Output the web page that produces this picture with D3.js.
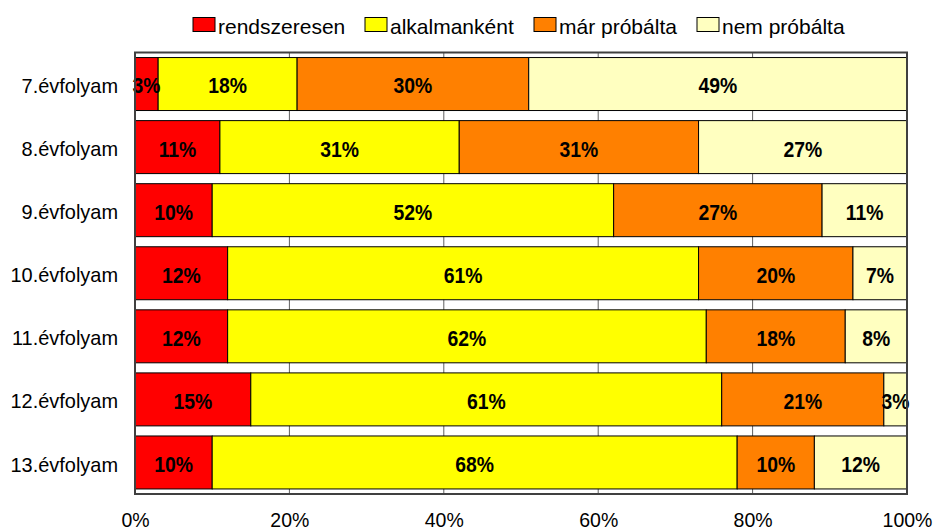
<!DOCTYPE html>
<html>
<head>
<meta charset="utf-8">
<script src="https://cdn.jsdelivr.net/npm/d3@7"></script>
<style>
html,body{margin:0;padding:0;background:#fff;}
text{font-family:Arial,"Liberation Sans",Arimo,sans-serif;}
</style>
</head>
<body>
<svg id="chart" width="935" height="531"></svg>
<script>
const categories = ["7.évfolyam","8.évfolyam","9.évfolyam","10.évfolyam","11.évfolyam","12.évfolyam","13.évfolyam"];
const seriesNames = ["rendszeresen","alkalmanként","már próbálta","nem próbálta"];
const rendszeresen = [3,11,10,12,12,15,10];
const alkalmankent = [18,31,52,61,62,61,68];
const marProbalta = [30,31,27,20,18,21,10];
const nemProbalta = [49,27,11,7,8,3,12];
const tickValues = [0,20,40,60,80,100];
const colors = ["#FF0000","#FFFF00","#FF8000","#FFFFC0"];

const seriesValues = [rendszeresen, alkalmankent, marProbalta, nemProbalta];
const rows = categories.map((c,i)=>{
  const o = {cat:c};
  seriesNames.forEach((s,j)=>o[s]=seriesValues[j][i]);
  return o;
});

const svg = d3.select("#chart");
const m = {left:135, right:907, top:52.5, bottom:494};

const x = d3.scaleLinear().domain([0,100]).range([m.left, m.right]);
const y = d3.scaleBand().domain(categories).range([m.top, m.bottom]).paddingInner(0.16).paddingOuter(0.08);

// gridlines
svg.append("g").selectAll("line").data(tickValues.slice(1,-1)).join("line")
  .attr("x1",d=>x(d)).attr("x2",d=>x(d))
  .attr("y1",m.top).attr("y2",m.bottom)
  .attr("stroke","#606060").attr("stroke-width",1);

const stack = d3.stack().keys(seriesNames)(rows);

const g = svg.append("g");
stack.forEach((layer,li)=>{
  g.append("g").selectAll("rect").data(layer).join("rect")
    .attr("x",d=>x(d[0]))
    .attr("width",d=>x(d[1])-x(d[0]))
    .attr("y",d=>y(d.data.cat))
    .attr("height",y.bandwidth())
    .attr("fill",colors[li])
    .attr("stroke","#000").attr("stroke-width",1);
});
stack.forEach((layer,li)=>{
  g.append("g").selectAll("text").data(layer).join("text")
    .attr("transform",d=>`translate(${(x(d[0])+x(d[1]))/2},${y(d.data.cat)+y.bandwidth()/2+1.5}) scale(0.88,1)`)
    .attr("dy","0.36em")
    .attr("text-anchor","middle")
    .attr("font-size","22px").attr("font-weight","bold")
    .attr("fill","#000")
    .text(d=>(d[1]-d[0])+"%");
});

// frame
svg.append("rect").attr("x",m.left).attr("y",m.top)
  .attr("width",m.right-m.left).attr("height",m.bottom-m.top)
  .attr("fill","none").attr("stroke","#404040").attr("stroke-width",2);

// x axis
const xAxis = d3.axisBottom(x).tickValues(tickValues).tickFormat(d=>d+"%").tickSize(0).tickPadding(0);
const xa = svg.append("g").attr("transform",`translate(0,${m.bottom})`).call(xAxis);
xa.select(".domain").remove();
xa.selectAll("text").attr("font-size","21px").attr("fill","#000")
  .attr("dy",null).attr("y",0)
  .attr("transform","translate(0,33) scale(0.93,1)");

// y axis labels
const yAxis = d3.axisLeft(y).tickSize(0).tickPadding(0);
const ya = svg.append("g").attr("transform",`translate(118,1.5)`).call(yAxis);
ya.select(".domain").remove();
ya.selectAll("text").attr("font-size","21px").attr("fill","#000")
  .attr("dy","0.36em")
  .attr("transform","scale(0.95,1)");

// legend
const legendX = [193, 365, 534, 697];
const lg = svg.append("g");
seriesNames.forEach((s,i)=>{
  lg.append("rect").attr("x",legendX[i]).attr("y",17.5).attr("width",22).attr("height",14)
    .attr("fill",colors[i]).attr("stroke","#000").attr("stroke-width",1);
  lg.append("text").attr("x",legendX[i]+25).attr("y",34)
    .attr("font-size","21px").attr("fill","#000").text(s);
});
</script>
</body>
</html>
